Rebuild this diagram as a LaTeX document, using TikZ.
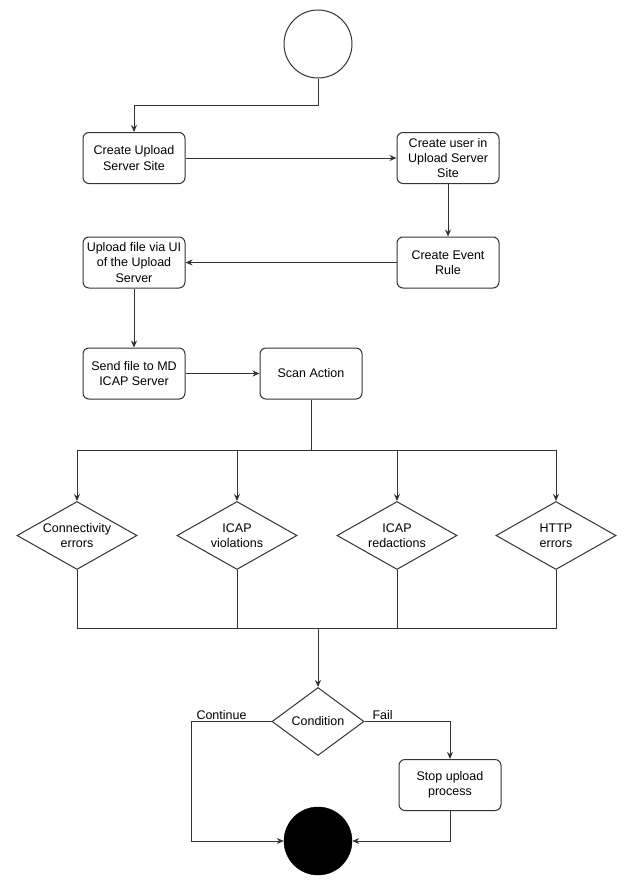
\documentclass[tikz,border=0pt]{standalone}
\usepackage{fontspec}
\setmainfont{Liberation Sans}
\usetikzlibrary{arrows.meta,positioning,shapes.geometric}

\begin{document}
\begin{tikzpicture}[
    x=1pt, y=-1pt,
    act/.style={draw=black!80, line width=1pt, rounded corners=6pt,
                minimum width=102pt, minimum height=51pt, inner sep=1pt,
                align=center, font=\fontsize{12.5}{15.3}\selectfont},
    decision/.style={draw=black!80, line width=1pt, diamond,
                     minimum width=120pt, minimum height=68pt, inner sep=0pt},
    dtext/.style={align=center, inner sep=0pt,
                  font=\fontsize{12.5}{15.3}\selectfont},
    lbl/.style={font=\fontsize{12.5}{15}\selectfont, inner sep=1.5pt},
    flow/.style={draw=black!80, line width=1pt},
    >={Stealth[length=7pt,width=6pt]}
  ]
  \useasboundingbox (0,0) rectangle (636,889);

  % start
  \node[circle, draw=black!80, line width=1pt, minimum size=68pt] (start) at (318,44) {};

  % setup steps
  \node[act] (createsite) at (134,158) {Create Upload\\Server Site};
  \node[act] (createuser) at (448,158) {Create user in\\Upload Server\\Site};
  \node[act] (eventrule) at (448,262.5) {Create Event\\Rule};
  \node[act] (uploadui) at (134,262.5) {Upload file via UI\\of the Upload\\Server};
  \node[act] (sendicap) at (134,373.5) {Send file to MD\\ICAP Server};
  \node[act] (scan) at (311,373.5) {Scan Action};

  % outcomes
  \node[decision, label={[dtext]center:{Connectivity\\errors}}] (connerr) at (77,535.5) {};
  \node[decision, label={[dtext]center:{ICAP\\violations}}] (icapviol) at (237,535.5) {};
  \node[decision, label={[dtext]center:{ICAP\\redactions}}] (icapred) at (397,535.5) {};
  \node[decision, label={[dtext]center:{HTTP\\errors}}] (httperr) at (556,535.5) {};

  % condition and end
  \node[decision, minimum width=92pt, label={[dtext]center:{Condition}}] (cond) at (318,721.5) {};
  \node[act] (stop) at (450,785) {Stop upload\\process};
  \node[circle, fill=black, draw=black, minimum size=68pt] (finish) at (318,841) {};

  \coordinate (split) at (311,450);
  \coordinate (merge) at (318,628);

  % arrows
  \draw[flow, ->] (start.south) -- ++(0,27) -| (createsite.north);
  \draw[flow, ->] (createsite.east) -- (createuser.west);
  \draw[flow, ->] (createuser.south) -- (eventrule.north);
  \draw[flow, ->] (eventrule.west) -- (uploadui.east);
  \draw[flow, ->] (uploadui.south) -- (sendicap.north);
  \draw[flow, ->] (sendicap.east) -- (scan.west);
  \draw[flow] (scan.south) -- (split);
  \foreach \d in {connerr, icapviol, icapred, httperr} {
    \draw[flow, ->] (split) -| (\d.north);
    \draw[flow] (\d.south) |- (merge);
  }
  \draw[flow, ->] (merge) -- (cond.north);
  \draw[flow, ->] (cond.west) -- ++(-80,0) node[lbl, above right, xshift=3pt] {Continue}
    |- (finish.west);
  \draw[flow, ->] (cond.east) node[lbl, above right, xshift=6pt] {Fail} -| (stop.north);
  \draw[flow, ->] (stop.south) |- (finish.east);
\end{tikzpicture}
\end{document}
